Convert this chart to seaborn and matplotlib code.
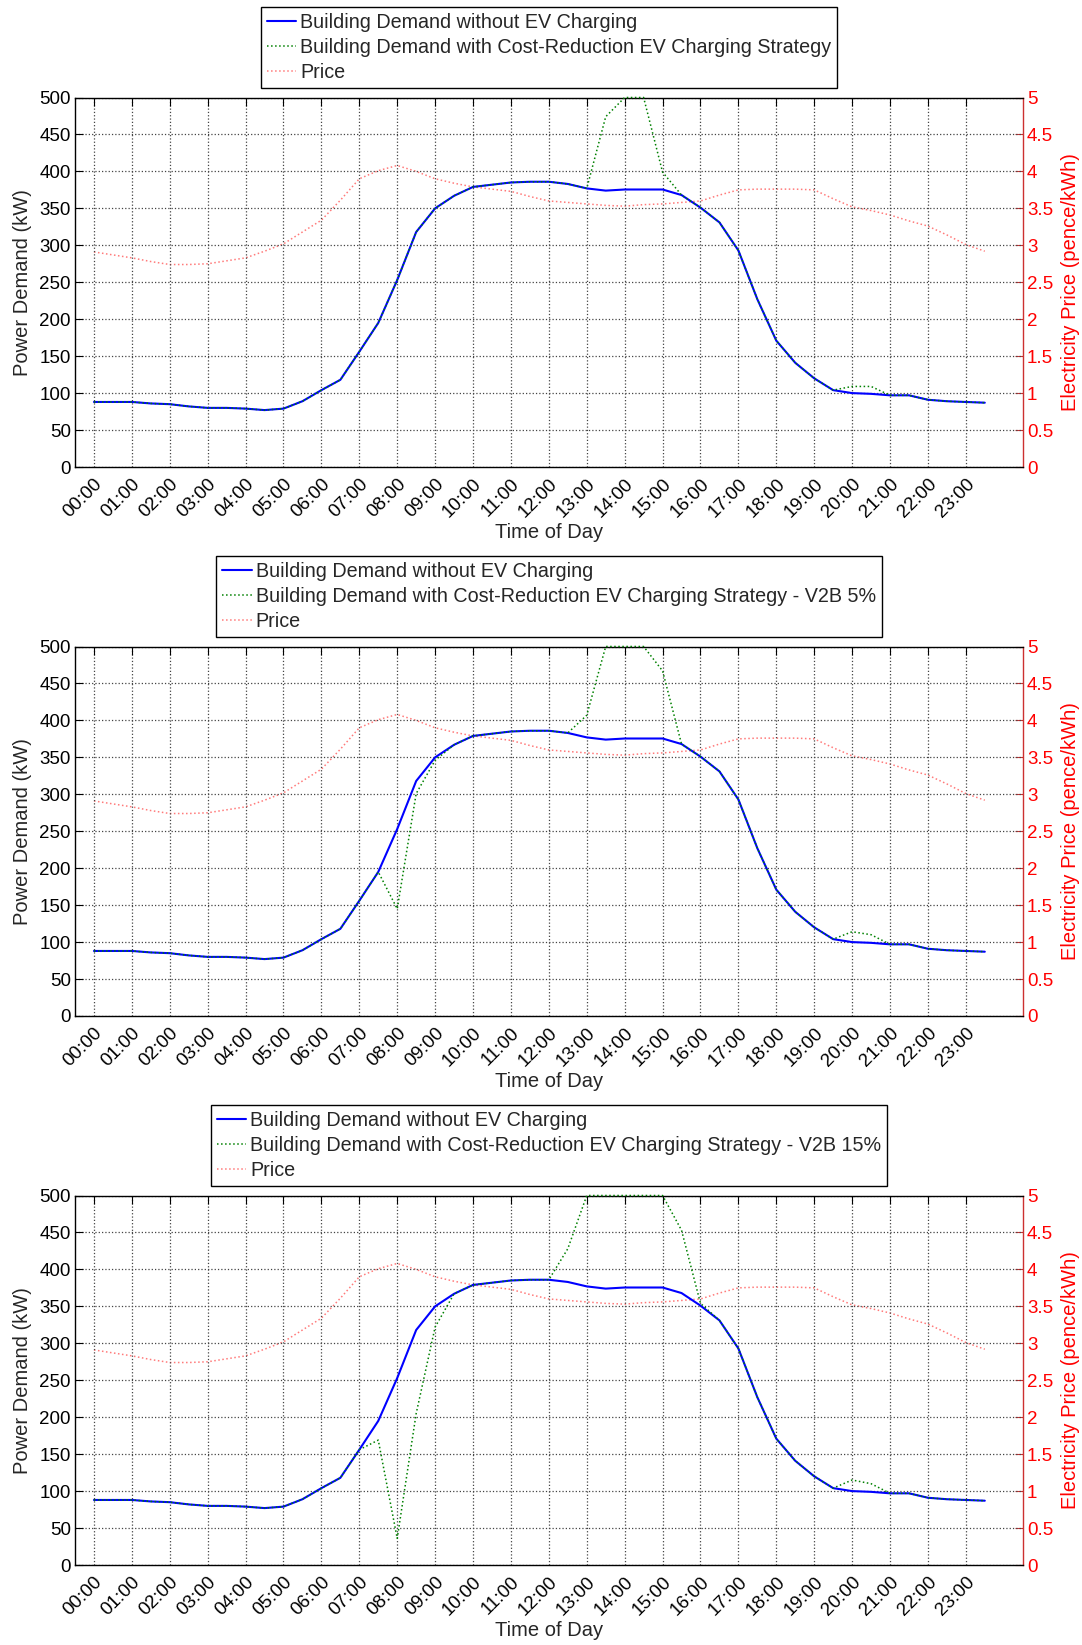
import numpy as np
import matplotlib
matplotlib.use("Agg")
import matplotlib.pyplot as plt
import seaborn as sns

####Data########################################################################
# half-hourly points, 00:00 .. 23:30
half_hours = np.arange(48) * 0.5
hour_ticks = list(range(24))
hour_labels = ["%02d:00" % h for h in hour_ticks]

demand_base = [88, 88, 88, 86, 85, 82, 80, 80, 79, 77, 79, 89,
               104, 118, 156, 195, 253, 318, 350, 367, 379, 382, 385, 386,
               386, 383, 377, 374, 375.5, 375.5, 375.5, 368, 351, 331, 293, 227,
               171, 141, 120, 104, 100, 99, 97, 97, 91, 89, 88, 87]

demand_ev = [88, 88, 88, 86, 85, 82, 80, 80, 79, 77, 79, 89,
             104, 118, 156, 195, 253, 318, 350, 367, 379, 382, 385, 386,
             386, 383, 377, 474, 500, 500, 399, 368, 351, 331, 293, 227,
             171, 141, 120, 104, 109, 109, 97, 97, 91, 89, 88, 87]

demand_v2b5 = [88, 88, 88, 86, 85, 82, 80, 80, 79, 77, 79, 89,
               104, 118, 156, 195, 145, 301, 346, 367, 379, 382, 385, 386,
               386, 383, 407, 500, 500, 500, 467, 368, 351, 331, 293, 227,
               171, 141, 120, 104, 114, 110, 97, 97, 91, 89, 88, 87]

demand_v2b15 = [88, 88, 88, 86, 85, 82, 80, 80, 79, 77, 79, 89,
                104, 118, 156, 169, 36, 205, 322, 367, 379, 382, 385, 386,
                386, 428, 500, 500, 500, 500, 500, 453, 354, 331, 293, 227,
                171, 141, 120, 104, 115, 110, 97, 97, 91, 89, 88, 87]

price = [2.91, 2.87, 2.83, 2.78, 2.74, 2.74, 2.75, 2.79, 2.83, 2.92, 3.02, 3.18,
         3.34, 3.61, 3.90, 4.01, 4.08, 4.00, 3.90, 3.84, 3.79, 3.76, 3.73, 3.66,
         3.60, 3.58, 3.56, 3.54, 3.53, 3.55, 3.56, 3.58, 3.60, 3.68, 3.75, 3.76,
         3.76, 3.76, 3.75, 3.63, 3.52, 3.47, 3.41, 3.33, 3.26, 3.14, 3.01, 2.92]

ev_labels = ["Building Demand with Cost-Reduction EV Charging Strategy",
             "Building Demand with Cost-Reduction EV Charging Strategy - V2B 5%",
             "Building Demand with Cost-Reduction EV Charging Strategy - V2B 15%"]
ev_series = [demand_ev, demand_v2b5, demand_v2b15]

####Style#######################################################################
sns.set_style("white")
plt.rcParams['font.family'] = ['Liberation Sans', 'DejaVu Sans']
plt.rcParams['font.size'] = 13.5

W, H = 1082, 1645
fig = plt.figure(figsize=(W / 100, H / 100), dpi=100)

ax_left, ax_right = 75, 1022.7
ax_tops = [97.5, 646.5, 1195.5]
ax_height = 369.5
legend_gap = 9.5

BLUE = "#0000ff"
GREEN = "#008000"
PINK = "#ff7a7a"
RED_TXT = "#ff0000"
RED_AX = "#cc3030"
TICK_FS = 13.5
LABEL_FS = 14.5

for top, series, lab in zip(ax_tops, ev_series, ev_labels):
    bottom = top + ax_height
    ax = fig.add_axes([ax_left / W, 1 - bottom / H,
                       (ax_right - ax_left) / W, ax_height / H])
    ax2 = ax.twinx()

    sns.lineplot(x=half_hours, y=demand_base, ax=ax, color=BLUE, lw=1.5,
                 label="Building Demand without EV Charging", zorder=3)
    sns.lineplot(x=half_hours, y=series, ax=ax, color=GREEN, lw=1.1,
                 linestyle=":", label=lab, zorder=5, clip_on=False)
    sns.lineplot(x=half_hours, y=price, ax=ax2, color=PINK, lw=1.1,
                 linestyle=":", label="Price")

    ax.set_xlim(-0.5, 24.5)
    ax.set_ylim(0, 500)
    ax.set_yticks(range(0, 501, 50))
    ax2.set_ylim(0, 5)
    ax2.set_yticks(np.arange(0, 5.01, 0.5))
    ax2.set_yticklabels(["%g" % v for v in np.arange(0, 5.01, 0.5)])

    ax.set_xticks(hour_ticks)
    ax.set_xticklabels(hour_labels, rotation=45, ha="right", va="top",
                       rotation_mode="anchor")

    ax.grid(True, color="#444444", linestyle=":", linewidth=0.9)
    ax.tick_params(axis="both", direction="in", length=6, width=0.8,
                   colors="black", labelsize=TICK_FS, pad=3, top=True)
    ax.tick_params(axis="x", pad=6)
    ax2.tick_params(axis="y", direction="in", length=6, width=0.8,
                    colors=RED_AX, labelcolor=RED_TXT, labelsize=TICK_FS, pad=3)

    for s in ["left", "bottom", "top"]:
        ax.spines[s].set_color("black")
        ax.spines[s].set_linewidth(1.0)
    ax.spines["right"].set_visible(False)
    ax2.spines["right"].set_color(RED_AX)
    ax2.spines["right"].set_linewidth(1.0)
    for s in ["left", "bottom", "top"]:
        ax2.spines[s].set_visible(False)
    ax.set_zorder(ax2.get_zorder() + 1)
    ax.patch.set_visible(False)

    ax.set_ylabel("Power Demand (kW)", fontsize=LABEL_FS, labelpad=5)
    ax.set_xlabel("Time of Day", fontsize=LABEL_FS)
    ax.xaxis.set_label_coords(0.5, -0.152)
    ax2.set_ylabel("Electricity Price (pence/kWh)", fontsize=LABEL_FS,
                   color=RED_TXT, labelpad=6)

    h1, l1 = ax.get_legend_handles_labels()
    h2, l2 = ax2.get_legend_handles_labels()
    ax.get_legend().remove()
    ax2.get_legend().remove()
    leg = ax.legend(h1 + h2, l1 + l2, loc="lower center",
                    bbox_to_anchor=((ax_left + ax_right) / 2 / W,
                                    1 - (top - legend_gap) / H),
                    bbox_transform=fig.transFigure, fontsize=14.2,
                    frameon=True, fancybox=False, shadow=False,
                    edgecolor="black", framealpha=1, handlelength=1.5,
                    handletextpad=0.2, labelspacing=0.3, borderpad=0.3,
                    borderaxespad=0)
    leg.get_frame().set_linewidth(1.0)

fig.savefig("out.png", dpi=100)
